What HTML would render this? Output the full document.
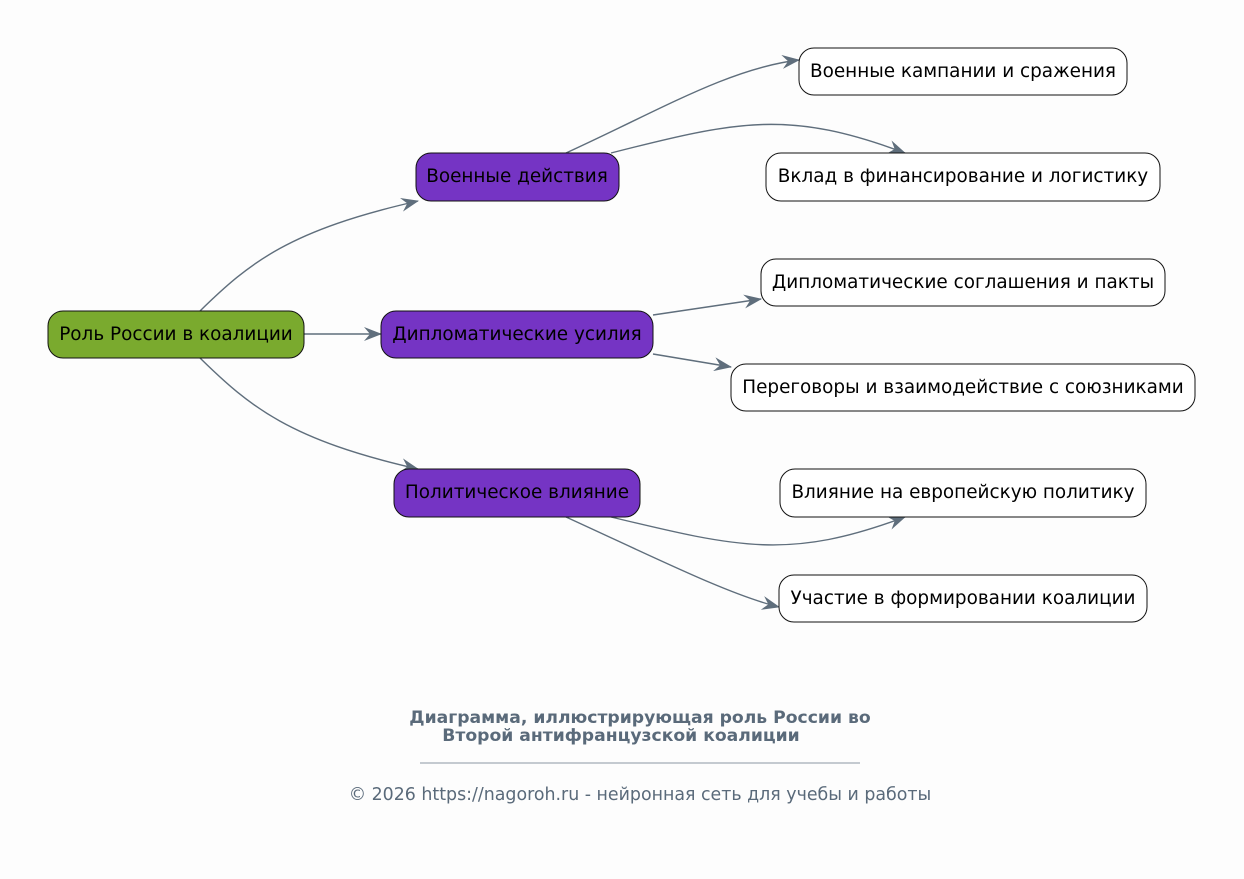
<!DOCTYPE html>
<html><head><meta charset="utf-8"><style>
html,body{margin:0;padding:0;background:#fdfdfd;}
svg{display:block;font-family:"DejaVu Sans","Liberation Sans",sans-serif;}
</style></head><body>
<svg width="1244" height="879" viewBox="0 0 1244 879" xmlns="http://www.w3.org/2000/svg">
<defs>
<marker id="a" viewBox="0 0 18 14" refX="17" refY="7" markerWidth="18" markerHeight="14" markerUnits="userSpaceOnUse" orient="auto">
<path d="M0,0 L18,7 L0,14 L6,7 z" fill="#5f6e7c"/>
</marker>
</defs>
<rect width="1244" height="879" fill="#fdfdfd"/>
<g fill="none" stroke="#5f6e7c" stroke-width="1.4" marker-end="url(#a)">
<path d="M200,311 C250,262 290,230 418,201"/>
<path d="M304,334 L381,334"/>
<path d="M200,358 C250,407 290,440 418,469"/>
<path d="M566,153 C660,110 730,68 799,60"/>
<path d="M611,153 C740,120 790,110 905,153"/>
<path d="M653,315 L761,299"/>
<path d="M653,354 L731,367"/>
<path d="M611,517 C740,548 790,560 905,517"/>
<path d="M566,517 C660,560 730,595 779,607"/>
</g>
<g stroke="#111" stroke-width="1">
<rect x="48" y="311" width="256" height="47" rx="15" fill="#7aaa2e"/>
<rect x="416" y="153" width="203" height="48" rx="15" fill="#7534c4"/>
<rect x="381" y="311" width="272" height="47" rx="15" fill="#7534c4"/>
<rect x="394" y="469" width="246" height="48" rx="15" fill="#7534c4"/>
<rect x="799" y="48" width="328" height="47" rx="15" fill="#fff"/>
<rect x="766" y="153" width="394" height="48" rx="15" fill="#fff"/>
<rect x="761" y="259" width="404" height="47" rx="15" fill="#fff"/>
<rect x="731" y="364" width="464" height="47" rx="15" fill="#fff"/>
<rect x="780" y="469" width="366" height="48" rx="15" fill="#fff"/>
<rect x="779" y="575" width="368" height="47" rx="15" fill="#fff"/>
</g>
<g font-size="18.4" fill="#000" text-anchor="middle">
<text x="176" y="340">Роль России в коалиции</text>
<text x="517" y="182">Военные действия</text>
<text x="517" y="340">Дипломатические усилия</text>
<text x="517" y="498">Политическое влияние</text>
<text x="963" y="77">Военные кампании и сражения</text>
<text x="963" y="182">Вклад в финансирование и логистику</text>
<text x="963" y="288">Дипломатические соглашения и пакты</text>
<text x="963" y="393">Переговоры и взаимодействие с союзниками</text>
<text x="963" y="498">Влияние на европейскую политику</text>
<text x="963" y="604">Участие в формировании коалиции</text>
</g>
<g fill="#5a6a7a" text-anchor="middle">
<text x="640" y="723" font-size="17.2" font-weight="bold">Диаграмма, иллюстрирующая роль России во</text>
<text x="621" y="741" font-size="17.2" font-weight="bold">Второй антифранцузской коалиции</text>
<line x1="420" y1="763" x2="860" y2="763" stroke="#8a96a2" stroke-width="1"/>
<text x="640" y="800" font-size="17.4">© 2026 https://nagoroh.ru - нейронная сеть для учебы и работы</text>
</g>
</svg>
</body></html>
